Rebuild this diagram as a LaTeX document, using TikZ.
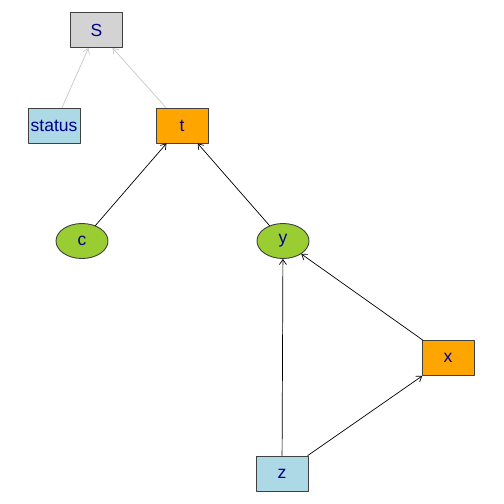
\documentclass[tikz,border=0pt]{standalone}
\usepackage{fontspec}
\setmainfont{Liberation Sans}
\usetikzlibrary{shapes.geometric,arrows.meta}
\definecolor{labelblue}{RGB}{0,0,139}
\definecolor{boxgray}{RGB}{211,211,211}
\definecolor{lblue}{RGB}{173,216,230}
\definecolor{orng}{RGB}{255,165,0}
\definecolor{ygreen}{RGB}{154,205,50}
\tikzset{
	vnode/.style={draw=black!75,line width=0.9pt,minimum width=52pt,minimum height=35pt,inner sep=0pt,
		text=labelblue,font=\fontsize{17.5}{20}\selectfont},
	boxnode/.style={vnode,rectangle},
	ovalnode/.style={vnode,ellipse},
	edge/.style={line width=0.7pt,-{Straight Barb[length=5pt,width=7pt]}},
}
\begin{document}
\begin{tikzpicture}[x=1pt,y=-1pt,line join=round,line cap=round]
	\useasboundingbox (0,0) rectangle (504,504);
	
	\node[boxnode,fill=boxgray] (S) at (96.5,30) {S};
	\node[boxnode,fill=lblue] (status) at (54,125.5) {status};
	\node[boxnode,fill=orng] (t) at (182,125.5) {t};
	\node[ovalnode,fill=ygreen] (c) at (82,241) {c};
	\node[ovalnode,fill=ygreen] (y) at (283,241) {y};
	\node[boxnode,fill=orng] (x) at (448,358) {x};
	\node[boxnode,fill=lblue] (z) at (282,473.5) {z};
	
	\draw[edge,black!22] (status)--(S);
	\draw[edge,black!22] (t)--(S);
	\draw[edge] (c)--(t);
	\draw[edge] (y)--(t);
	\draw[edge] (z)--(y);
	\draw[edge] (x)--(y);
	\draw[edge] (z)--(x);
\end{tikzpicture}
\end{document}
